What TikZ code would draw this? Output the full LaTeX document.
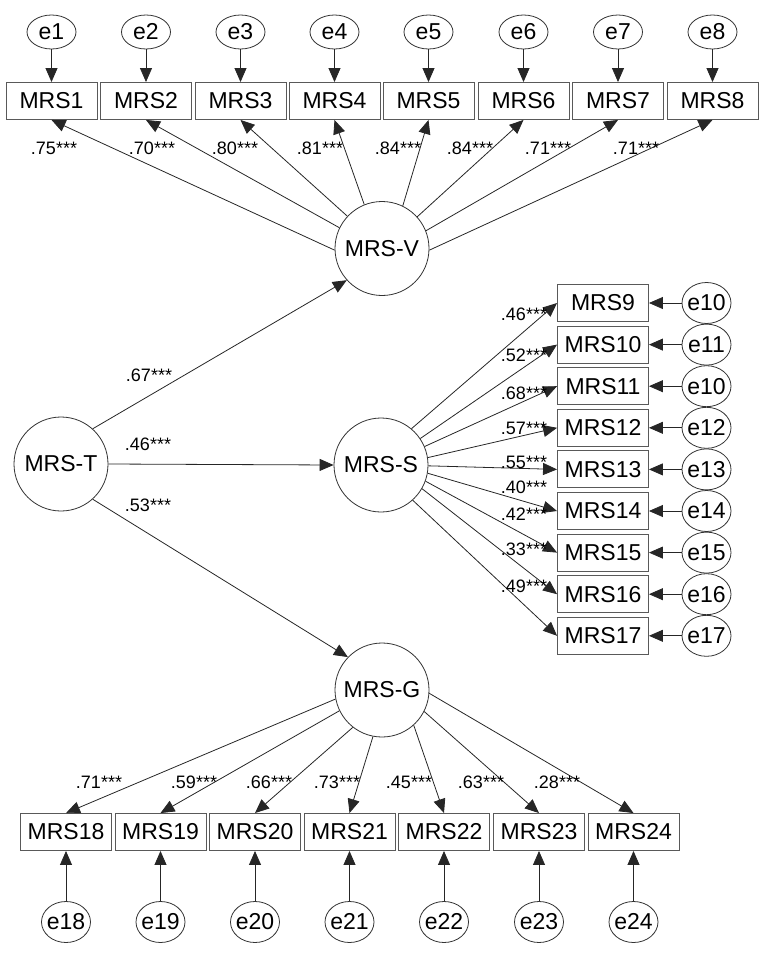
\documentclass[tikz,border=0pt]{standalone}
\usepackage{fontspec}
\setmainfont{Liberation Sans}
\usetikzlibrary{arrows.meta,shapes.geometric}
\newcommand{\ztxt}[1]{\makebox[0pt]{#1}}
\begin{document}
\begin{tikzpicture}[x=1pt,y=-1pt,
 box/.style={draw=black!65, line width=0.9pt, rectangle, minimum width=91pt, minimum height=37pt, inner sep=0pt, font=\fontsize{23}{27}\selectfont},
 err/.style={draw=black!80, line width=0.8pt, ellipse, minimum width=49pt, minimum height=34pt, inner sep=0pt, font=\fontsize{23}{27}\selectfont},
 errb/.style={err, minimum height=41pt},
 lat/.style={draw=black!80, line width=0.8pt, circle, minimum size=94pt, inner sep=0pt, font=\fontsize{23}{27}\selectfont},
 arr/.style={draw=black!85, line width=0.8pt, -{Triangle[length=14pt,width=12pt]}},
 lbl/.style={font=\fontsize{18}{20}\selectfont, inner sep=0pt},
]
\useasboundingbox (0,0) rectangle (765,953);

% latent variables
\node[lat] (V) at (382,248.5) {MRS-V};
\node[lat] (T) at (61,464) {MRS-T};
\node[lat] (S) at (381,465) {MRS-S};
\node[lat] (G) at (382,690) {MRS-G};

\draw[arr] (T.48) -- (V.222);
\draw[arr] (T.east) -- (S.west);
\draw[arr] (T.-48) -- (G.136);
\node[lbl] (tv) at (149,375) {.67***};
\node[lbl] (ts) at (148,444) {.46***};
\node[lbl] (tg) at (148,505) {.53***};

% top indicators
\foreach \i/\x/\a/\lx/\t in {1/51.5/182/54/.75, 2/146/154/152/.70, 3/240.5/137/235/.80, 4/334.5/112.5/320/.81, 5/428.5/64/398/.84, 6/523.5/42/470/.84, 7/618/22/548/.71, 8/712.5/-2/636/.71} {
  \node[box] (m\i) at (\x,101) {MRS\i};
  \node[err] (e\i) at (\x,32) {\ztxt{e\i}};
  \draw[arr] (e\i) -- (m\i);
  \draw[arr] (V.\a) -- (m\i.south);
  \node[lbl] (l\i) at (\lx,148) {\t***};
}

% right indicators
\foreach \i/\y/\e/\a/\ly/\t in {9/303/e10/50/314/.46, 10/344.6/e11/34/355/.52, 11/386.2/e10/23.5/393/.68, 12/427.8/e12/9.5/428/.57, 13/469.4/e13/-1/462/.55, 14/511/e14/-10/487/.40, 15/552.6/e15/-20/514/.42, 16/594.2/e16/-30/549/.33, 17/635.8/e17/-48/586/.49} {
  \node[box] (m\i) at (603,\y) {MRS\i};
  \node[errb] (r\i) at (706.5,\y) {\ztxt{\e}};
  \draw[arr] (r\i) -- (m\i);
  \draw[arr] (S.\a) -- (m\i.west);
  \node[lbl] (l\i) at (524,\ly) {\t***};
}

% bottom indicators
\foreach \i/\x/\a/\lx/\t in {18/66/191/99/.71, 19/160.5/206.6/194/.59, 20/255/232/269/.66, 21/349.5/259/337/.73, 22/444/312/409/.45, 23/539/333/481/.63, 24/633.5/356/557/.28} {
  \node[box] (m\i) at (\x,832) {MRS\i};
  \node[errb] (b\i) at (\x,922) {\ztxt{e\i}};
  \draw[arr] (b\i) -- (m\i);
  \draw[arr] (G.\a) -- (m\i.north);
  \node[lbl] (l\i) at (\lx,782) {\t***};
}
\end{tikzpicture}
\end{document}
